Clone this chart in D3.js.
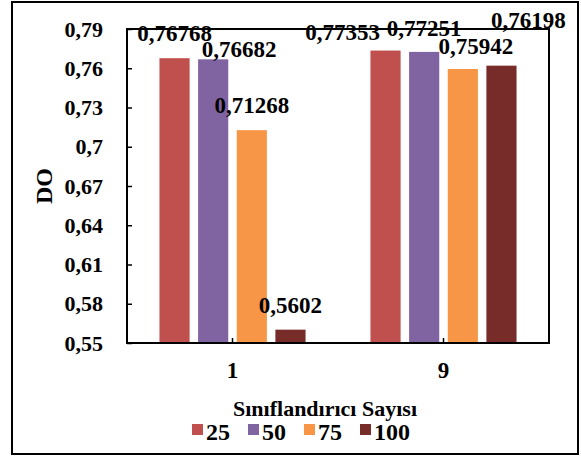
<!DOCTYPE html>
<html>
<head>
<meta charset="utf-8">
<script src="https://cdn.jsdelivr.net/npm/d3@7"></script>
<style>
    body { margin: 0; background: #fff; }
    text { font-family: "Liberation Serif", "Times New Roman", serif; font-weight: bold; fill: #000; }
</style>
</head>
<body>
<svg id="chart" width="581" height="456"></svg>
<script>
// data
const categories = ["1", "9"];
const seriesNames = ["25", "50", "75", "100"];
const values25  = [0.76768, 0.77353];
const values50  = [0.76682, 0.77251];
const values75  = [0.71268, 0.75942];
const values100 = [0.5602, 0.76198];
const yTicks = [0.55, 0.58, 0.61, 0.64, 0.67, 0.7, 0.73, 0.76, 0.79];
const colors = ["#C0504D", "#8064A2", "#F79646", "#772C2A"];

// label nudges (dx, dy) per series, per category, where labels were moved off the default spot
const labelShift = [
    [[0, 0], [-43, 6]],
    [[26, 15], [0, 1]],
    [[0, 0], [13, 2]],
    [[0, 0], [27, -21]]
];

const series = [values25, values50, values75, values100];

const svg = d3.select("#chart");
const margin = {left: 127, right: 32, top: 29, bottom: 113};
const width = 581, height = 456;

// outer frame
svg.append("rect")
    .attr("x", 12).attr("y", 2)
    .attr("width", 566).attr("height", 452)
    .attr("fill", "none")
    .attr("stroke", "#000")
    .attr("stroke-width", 2);

const x0 = d3.scaleBand()
    .domain(categories)
    .range([margin.left, width - margin.right]);

const x1 = d3.scaleBand()
    .domain(seriesNames)
    .range([0, x0.bandwidth()])
    .paddingInner(0.22)
    .paddingOuter(0.84);

const y = d3.scaleLinear()
    .domain([0.55, 0.79])
    .range([height - margin.bottom, margin.top]);

const fmt = v => String(+v.toFixed(5)).replace(".", ",");

const rows = (c, ci) => series.map((s, si) => ({name: seriesNames[si], value: s[ci], si, ci}));

// bars
const groups = svg.append("g").selectAll("g")
    .data(categories)
    .join("g")
    .attr("transform", d => `translate(${x0(d)},0)`);

groups.selectAll("rect")
    .data(rows)
    .join("rect")
    .attr("x", d => x1(d.name))
    .attr("y", d => y(d.value))
    .attr("width", x1.bandwidth())
    .attr("height", d => y(0.55) - y(d.value))
    .attr("fill", d => colors[d.si]);

// y axis
const yAxis = d3.axisLeft(y)
    .tickValues(yTicks)
    .tickSizeInner(-5)
    .tickSizeOuter(0)
    .tickPadding(24)
    .tickFormat(d => String(+d.toFixed(2)).replace(".", ","));

const gy = svg.append("g")
    .attr("transform", `translate(${margin.left},0)`)
    .call(yAxis);
gy.select(".domain").remove();
gy.selectAll("line").attr("stroke", "#000").attr("stroke-width", 1.5);
gy.selectAll("text").style("font-size", "22px");

// x axis
const xAxis = d3.axisBottom(x0)
    .tickSizeInner(-5)
    .tickSizeOuter(0)
    .tickPadding(19);

const gx = svg.append("g")
    .attr("transform", `translate(0,${height - margin.bottom})`)
    .call(xAxis);
gx.select(".domain").remove();
gx.selectAll("line").attr("stroke", "#000").attr("stroke-width", 1.5);
gx.selectAll("text").style("font-size", "23px");

// plot border
svg.append("rect")
    .attr("x", margin.left).attr("y", margin.top)
    .attr("width", width - margin.left - margin.right)
    .attr("height", height - margin.top - margin.bottom)
    .attr("fill", "none")
    .attr("stroke", "#000")
    .attr("stroke-width", 2);

// data labels
groups.selectAll("text.lbl")
    .data(rows)
    .join("text")
    .attr("class", "lbl")
    .attr("x", d => x1(d.name) + x1.bandwidth() / 2 + labelShift[d.si][d.ci][0])
    .attr("y", d => y(d.value) - 17 + labelShift[d.si][d.ci][1])
    .attr("text-anchor", "middle")
    .style("font-size", "23px")
    .text(d => fmt(d.value));

// axis titles
svg.append("text")
    .attr("transform", `translate(52,${(margin.top + height - margin.bottom) / 2}) rotate(-90)`)
    .attr("text-anchor", "middle")
    .style("font-size", "24px")
    .text("DO");

svg.append("text")
    .attr("x", 325).attr("y", 416)
    .attr("text-anchor", "middle")
    .style("font-size", "22px")
    .text("Sınıflandırıcı Sayısı");

// legend
const legend = svg.append("g").selectAll("g")
    .data(seriesNames)
    .join("g")
    .attr("transform", (d, i) => `translate(${192 + i * 56},424)`);

legend.append("rect")
    .attr("width", 11).attr("height", 11)
    .attr("fill", (d, i) => colors[i]);

legend.append("text")
    .attr("x", 14).attr("y", 16)
    .style("font-size", "24px")
    .text(d => d);
</script>
</body>
</html>
